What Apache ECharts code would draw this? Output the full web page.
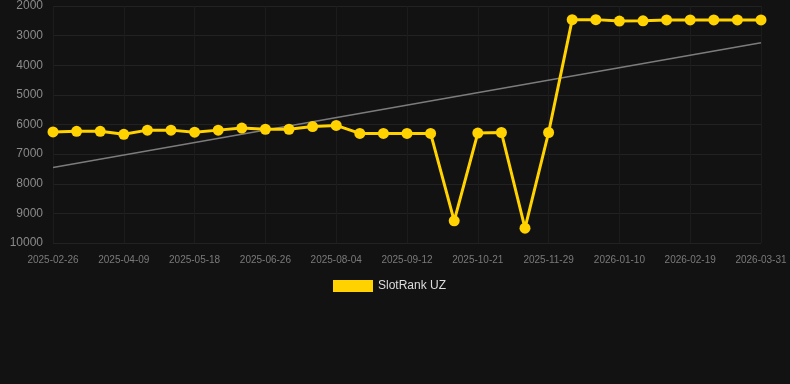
<!DOCTYPE html>
<html>
<head>
<meta charset="utf-8">
<script src="https://cdn.jsdelivr.net/npm/echarts@6/dist/echarts.min.js"></script>
<style>
  html, body { margin: 0; padding: 0; background: #121212; }
  #main { width: 790px; height: 384px; }
</style>
</head>
<body>
<div id="main"></div>
<script>
var dates = [
    '2025-02-26', '2025-03-12', '2025-03-26', '2025-04-09', '2025-04-22', '2025-05-05',
    '2025-05-18', '2025-05-31', '2025-06-13', '2025-06-26', '2025-07-09', '2025-07-22',
    '2025-08-04', '2025-08-17', '2025-08-30', '2025-09-12', '2025-09-25', '2025-10-08',
    '2025-10-21', '2025-11-03', '2025-11-16', '2025-11-29', '2025-12-13', '2025-12-27',
    '2026-01-10', '2026-01-23', '2026-02-05', '2026-02-19', '2026-03-04', '2026-03-17',
    '2026-03-31'
];
var rankValues = [
    6250, 6230, 6230, 6330, 6190, 6190,
    6260, 6190, 6120, 6160, 6160, 6070,
    6030, 6300, 6300, 6300, 6300, 9250,
    6290, 6270, 9500, 6270, 2460, 2460,
    2510, 2500, 2470, 2470, 2470, 2470,
    2470
];
// trend line: only the two ends are known, the rest joined
var trendValues = [7450];
for (var i = 1; i < dates.length - 1; i++) trendValues.push(null);
trendValues.push(3240);

var yTicks = [2000, 3000, 4000, 5000, 6000, 7000, 8000, 9000, 10000];

var myChart = echarts.init(document.getElementById('main'));
var option = {
    backgroundColor: '#121212',
    animation: false,
    grid: { left: 53, right: 29, top: 6, bottom: 141 },
    legend: {
        data: ['SlotRank UZ'],
        bottom: 87,
        left: 328,
        itemWidth: 40,
        itemHeight: 12,
        icon: 'rect',
        textStyle: { color: '#dddddd', fontSize: 12, fontFamily: 'Liberation Sans, Arial, sans-serif' }
    },
    xAxis: {
        type: 'category',
        data: dates,
        boundaryGap: false,
        axisLine: { show: false },
        axisTick: { show: false },
        axisLabel: {
            interval: 2,
            color: '#7a7a7a',
            fontSize: 10,
            margin: 12,
            fontFamily: 'Liberation Sans, Arial, sans-serif'
        },
        splitLine: { show: true, interval: 2, lineStyle: { color: '#1c1c1c', width: 1 } }
    },
    yAxis: {
        type: 'value',
        inverse: true,
        min: yTicks[0],
        max: yTicks[yTicks.length - 1],
        interval: 1000,
        axisLine: { show: false },
        axisTick: { show: false },
        axisLabel: {
            color: '#8a8a8a',
            fontSize: 12,
            margin: 10,
            formatter: function (v) { return String(v); },
            fontFamily: 'Liberation Sans, Arial, sans-serif'
        },
        splitLine: { lineStyle: { color: '#222222', width: 1 } }
    },
    series: [
        {
            name: 'trend',
            type: 'line',
            data: trendValues,
            connectNulls: true,
            symbol: 'none',
            lineStyle: { color: '#7c7c7c', width: 1.5 },
            z: 1,
            silent: true
        },
        {
            name: 'SlotRank UZ',
            type: 'line',
            data: rankValues,
            symbol: 'circle',
            symbolSize: 11,
            itemStyle: { color: '#ffd200' },
            lineStyle: { color: '#ffd200', width: 3 },
            z: 2
        }
    ]
};
myChart.setOption(option);
</script>
</body>
</html>
